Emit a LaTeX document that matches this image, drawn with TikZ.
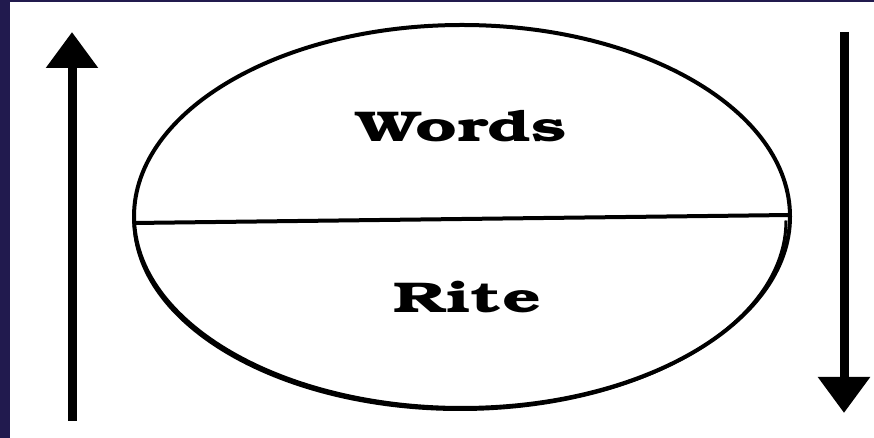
\documentclass[tikz,border=0pt]{standalone}
\usepackage[T1,TU]{fontenc}
\usepackage{graphicx}
\usetikzlibrary{arrows.meta}
\definecolor{navy}{HTML}{211A4E}
\tikzset{
  outline/.style={line width=4pt, draw=black},
  bigarrow/.style={line width=9pt, -{Triangle[width=50pt,length=36pt]}},
  wordlabel/.style={font=\fontencoding{T1}\fontfamily{pbk}\fontseries{b}\fontshape{n}\fontsize{43}{50}\selectfont, inner sep=0pt, anchor=base}
}
\newcommand{\widetext}[1]{\scalebox{1.58}[1]{#1}}
\begin{document}
\begin{tikzpicture}[x=1pt,y=1pt]
\useasboundingbox (0,0) rectangle (874,438);
\fill[white] (0,0) rectangle (874,438);
\fill[navy] (0,0) rectangle (10,438);
\fill[navy] (0,436) rectangle (874,438);
% ellipse
\coordinate (c) at (462,221.5);
\draw[outline] (c) ellipse (328 and 191.5);
\draw[line width=3pt] ([shift={(-2,-4)}]c) ++(-326,0) arc[start angle=180, end angle=360, x radius=326, y radius=189];
\coordinate (l) at (134,215);
\coordinate (r) at (790,223);
\draw[outline] (l) -- (r);
\node[wordlabel] (words) at (461.5,296) {\widetext{Words}};
\node[wordlabel] (rite) at (467.5,125) {\widetext{Rite}};
% arrows
\coordinate (a1) at (72,17);
\coordinate (a2) at (72,406);
\draw[bigarrow] (a1) -- (a2);
\coordinate (b1) at (844,406);
\coordinate (b2) at (844,25);
\draw[bigarrow] (b1) -- (b2);
\end{tikzpicture}
\end{document}
